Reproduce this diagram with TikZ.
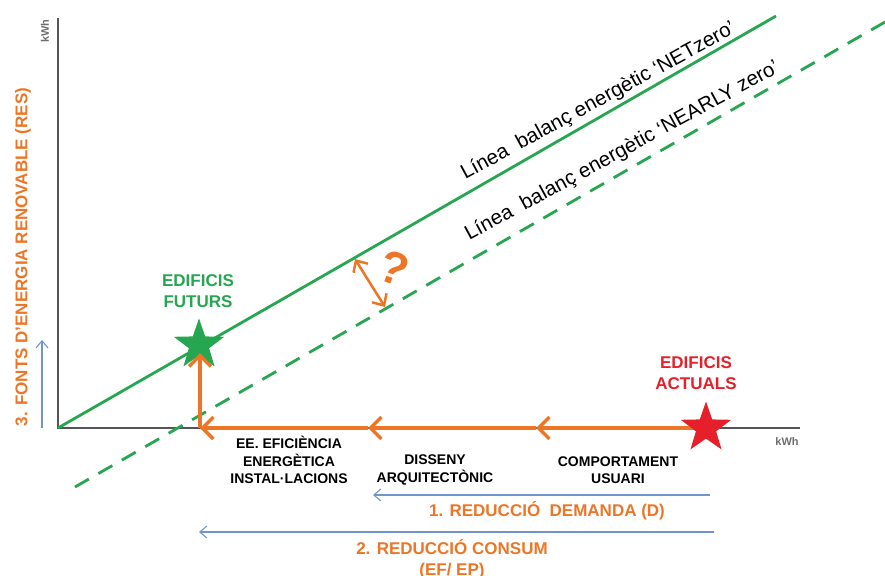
\documentclass[tikz,border=0pt]{standalone}
\usepackage{fontspec}
\setmainfont{Liberation Sans}
\usepackage{tikz}
\usetikzlibrary{arrows.meta,shapes.geometric,positioning}
\definecolor{netgreen}{RGB}{38,166,80}
\definecolor{redorange}{RGB}{236,118,38}
\definecolor{actred}{RGB}{230,32,42}
\definecolor{hintblue}{RGB}{112,148,204}
\definecolor{axisgray}{RGB}{85,85,85}

\begin{document}
\begin{tikzpicture}[x=1pt,y=-1pt,
  axis/.style={axisgray,line width=2pt},
  balance/.style={netgreen,line width=2.8pt},
  flow/.style={redorange,line width=3.5pt,-{Straight Barb[length=11pt,width=22pt]}},
  hint/.style={hintblue,line width=1.1pt,-{Straight Barb[length=7pt,width=12pt]}},
  building/.style={star,star points=5,star point ratio=2.5,minimum size=53pt,inner sep=0pt,fill=#1,draw=none},
  lbl/.style={font=\fontsize{14}{17.5}\selectfont\bfseries,align=center,inner sep=0pt},
  bigbold/.style={font=\fontsize{17}{21}\selectfont\bfseries,align=center,inner sep=0pt},
  unit/.style={font=\fontsize{11}{13}\selectfont\bfseries,text=axisgray!85,inner sep=0pt},
  linelbl/.style={font=\fontsize{20.5}{25}\selectfont,anchor=base,rotate=28.5,inner sep=0pt}]
\useasboundingbox (0,0) rectangle (885,575);

\coordinate (O) at (58,428);
\coordinate (ytop) at (58,18);
\coordinate (xend) at (800,428);
\draw[axis] (ytop) -- (O) -- (xend);

% balance lines
\coordinate (nz) at (776,16);
\coordinate (nl0) at (75,487);
\coordinate (nl1) at (885,22);
\draw[balance] (O) -- (nz);
\draw[balance,dash pattern=on 16pt off 11pt] (nl0) -- (nl1);

\node[building=netgreen] (futurs) at (199,345) {};

% reduction steps
\coordinate (act) at (706,428);
\coordinate (m2) at (536,428);
\coordinate (m1) at (368,428);
\coordinate (corner) at (200,428);
\coordinate (ftip) at (200,353);
\draw[flow] (act) -- (m2);
\draw[flow] (m2) -- (m1);
\draw[flow] (m1) -- (corner);
\draw[flow] (corner) -- (ftip);
\node[building=actred] (actuals) at (act) {};

\coordinate (gapt) at (355,259);
\coordinate (gapb) at (385,307);
\draw[redorange,line width=2.5pt,{Straight Barb[length=9pt,width=17pt]}-{Straight Barb[length=9pt,width=17pt]}] (gapt) -- (gapb);
\node[font=\fontsize{46}{46}\selectfont\bfseries,text=redorange,rotate=-20,inner sep=0pt] (ask) at (394,268) {?};

\coordinate (resb) at (42,428);
\coordinate (rest) at (42,340);
\coordinate (d1r) at (710,495);
\coordinate (d1l) at (373,495);
\coordinate (c2r) at (714,532);
\coordinate (c2l) at (199,532);
\draw[hint] (resb) -- (rest);
\draw[hint] (d1r) -- (d1l);
\draw[hint] (c2r) -- (c2l);

\node[bigbold,text=netgreen] (futlbl) at (198,291) {EDIFICIS\\FUTURS};
\node[bigbold,text=actred] (actlbl) at (696,373) {EDIFICIS\\ACTUALS};
\node[lbl] (ee) at (289,460) {EE. EFICIÈNCIA\\ENERGÈTICA\\INSTAL·LACIONS};
\node[lbl] (arq) at (435,470) {DISSENY\\ARQUITECTÒNIC};
\node[lbl] (usr) at (618,470) {COMPORTAMENT\\USUARI};
\node[bigbold,text=redorange] (dem) at (547,511) {1. REDUCCIÓ\ \ DEMANDA (D)};
\node[bigbold,text=redorange] (cons) at (452,559) {2. REDUCCIÓ CONSUM\\(EF/ EP)};
\node[bigbold,text=redorange,rotate=90] (res) at (23,257) {3. FONTS D'ENERGIA RENOVABLE (RES)};
\node[unit,rotate=90] (ykwh) at (45,31) {kWh};
\node[unit] (xkwh) at (787,442) {kWh};
\node[linelbl] (netlbl) at (601,106) {Línea\ \ balanç energètic ‘NETzero’};
\node[linelbl] (nearlbl) at (625,156) {Línea\ \ balanç energètic ‘NEARLY zero’};
\end{tikzpicture}
\end{document}
